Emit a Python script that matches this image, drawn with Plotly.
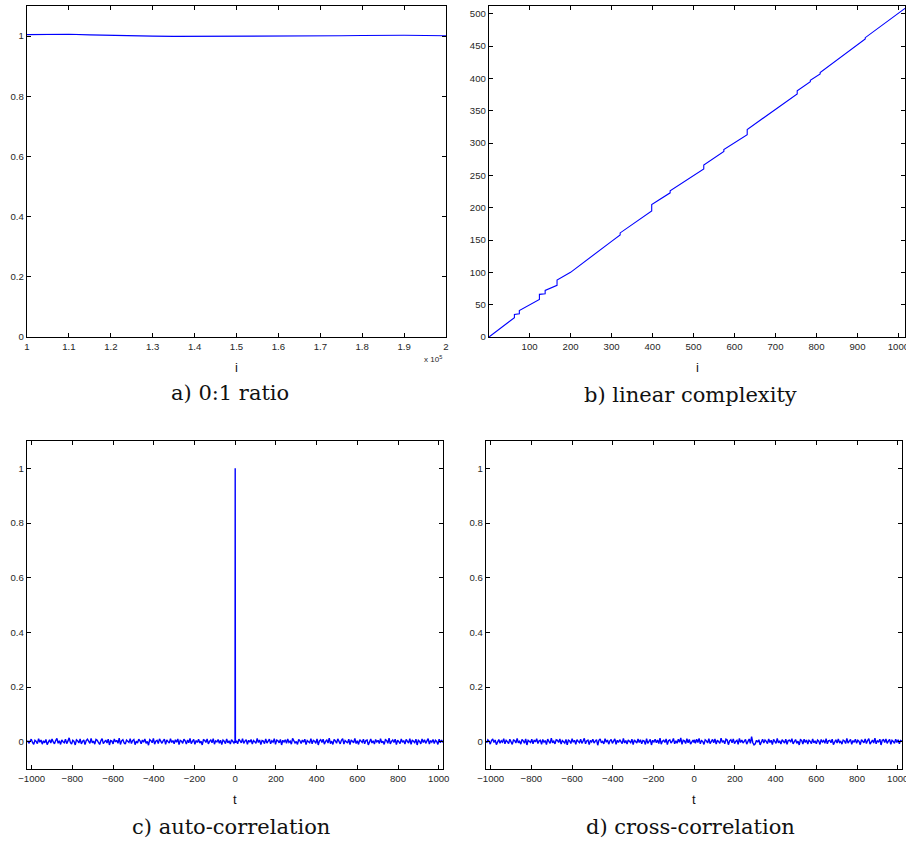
import plotly.graph_objects as go

# ---------------- data ----------------
# a) 0:1 ratio
ratio_i = [100000, 105000, 110000, 115000, 120000, 125000, 130000, 135000, 140000, 145000, 150000,
           155000, 160000, 165000, 170000, 175000, 180000, 185000, 190000, 195000, 200000]
ratio_v = [1.005, 1.006, 1.006, 1.004, 1.002, 1.001, 1.000, 0.999, 0.999, 0.999, 1.000,
           1.000, 1.001, 1.001, 1.000, 1.001, 1.002, 1.003, 1.003, 1.002, 1.001]

# b) linear complexity profile (break points read from the picture)
lc_i = [1, 63, 63, 75, 75, 124, 124, 138, 138, 167, 167, 200, 300, 321, 321, 398, 398, 443, 443,
        525, 525, 574, 574, 631, 631, 753, 753, 785, 785, 809, 809, 919, 919, 1024]
lc_L = [0, 30, 35, 36, 41, 58, 66, 67, 72, 80, 88, 100, 148, 158, 161, 195, 205, 223, 226,
        260, 266, 287, 290, 313, 321, 376, 381, 395, 397, 407, 409, 461, 463, 512]

# c), d) lags
lags = list(range(-1020, 0, 6)) + [-1, 0, 1] + list(range(6, 1021, 6))

auto_corr = [
    0.004, -0.006, 0.002, 0.009, -0.003, -0.010, 0.005, 0.001, -0.007, 0.011, -0.002, 0.006, -0.009, 0.003, -0.004, 0.008, -0.011, 0.002, 0.007, -0.005,
    0.010, -0.001, -0.008, 0.004, 0.012, -0.006, 0.003, -0.010, 0.006, 0.000, -0.004, 0.009, -0.007, 0.002, 0.014, -0.003, -0.009, 0.005, 0.001, -0.012,
    0.007, 0.003, -0.005, 0.010, -0.008, 0.001, 0.006, -0.011, 0.004, 0.009, -0.002, -0.006, 0.012, -0.004, 0.002, -0.009, 0.008, 0.005, -0.003, -0.010,
    0.003, 0.011, -0.007, 0.000, 0.006, -0.005, 0.009, -0.012, 0.004, 0.002, -0.008, 0.010, -0.001, 0.005, -0.006, 0.013, -0.010, 0.003, 0.007, -0.004,
    -0.009, 0.006, 0.001, -0.003, 0.011, -0.007, 0.004, 0.008, -0.011, 0.002, -0.005, 0.009, 0.003, -0.008, 0.006, -0.002, 0.010, -0.006, 0.001, -0.013,
    0.008, 0.004, -0.004, 0.012, -0.009, 0.002, 0.005, -0.007, 0.010, -0.001, -0.006, 0.003, 0.009, -0.010, 0.006, 0.000, -0.005, 0.011, -0.003, 0.004,
    -0.008, 0.007, -0.002, 0.010, -0.011, 0.005, 0.002, -0.006, 0.009, 0.003, -0.009, 0.006, -0.004, 0.012, -0.007, 0.001, 0.008, -0.010, 0.004, -0.003,
    0.009, -0.005, 0.002, -0.012, 0.007, 0.005, -0.003, 0.010, -0.008, 0.001, 0.006, -0.004, 0.011, -0.009, 0.003, -0.001, 0.008, -0.006, 0.005, -0.011,
    0.006, 0.002, -0.007, 0.010, -0.004, 0.003, -0.009, 0.007, 0.001, -0.005,
    0.003, 1.000, -0.004,
    0.003, -0.008, 0.009, 0.001, -0.004, 0.011, -0.006, 0.002, 0.007, -0.010, 0.005, -0.002, 0.008, -0.009, 0.004, 0.000, -0.006, 0.012, -0.003, 0.006,
    -0.011, 0.004, 0.002, -0.007, 0.010, -0.005, 0.001, 0.009, -0.008, 0.003, -0.002, 0.011, -0.010, 0.006, 0.003, -0.004, 0.008, -0.012, 0.005, -0.001,
    0.007, -0.006, 0.010, -0.003, 0.002, -0.009, 0.012, 0.004, -0.005, 0.001, -0.010, 0.008, 0.003, -0.007, 0.006, -0.002, 0.009, -0.011, 0.004, 0.000,
    -0.004, 0.011, -0.008, 0.005, 0.002, -0.006, 0.010, -0.012, 0.003, 0.007, -0.003, 0.009, -0.009, 0.001, 0.006, -0.005, 0.013, -0.007, 0.002, -0.010,
    0.008, 0.003, -0.006, 0.010, -0.002, -0.008, 0.005, 0.011, -0.009, 0.004, 0.000, -0.005, 0.009, -0.011, 0.006, 0.002, -0.004, 0.012, -0.007, 0.003,
    -0.010, 0.007, 0.001, -0.003, 0.009, -0.008, 0.004, 0.006, -0.012, 0.002, 0.010, -0.005, 0.003, -0.009, 0.008, -0.001, 0.005, -0.007, 0.011, -0.004,
    0.002, -0.010, 0.007, 0.004, -0.006, 0.013, -0.008, 0.001, 0.006, -0.003, 0.009, -0.011, 0.005, 0.000, -0.007, 0.010, -0.002, 0.004, -0.009, 0.008,
    0.003, -0.005, 0.011, -0.010, 0.006, 0.002, -0.004, 0.009, -0.012, 0.005, 0.001, -0.008, 0.010, -0.003, 0.007, -0.006, 0.002, 0.011, -0.009, 0.004,
    -0.002, 0.008, -0.007, 0.005, 0.001, -0.010, 0.009, -0.004, 0.006, -0.003,
]

cross_corr = [
    -0.005, 0.007, 0.002, -0.009, 0.004, 0.010, -0.003, 0.006, -0.011, 0.001, 0.008, -0.006, 0.003, -0.002, 0.011, -0.008, 0.005, 0.000, -0.007, 0.009,
    0.002, -0.010, 0.006, 0.004, -0.005, 0.012, -0.004, 0.001, -0.009, 0.008, 0.003, -0.006, 0.010, -0.012, 0.005, 0.002, -0.003, 0.009, -0.008, 0.006,
    -0.001, 0.011, -0.007, 0.003, 0.005, -0.010, 0.008, -0.002, 0.004, -0.011, 0.009, 0.001, -0.006, 0.013, -0.004, 0.002, -0.008, 0.007, 0.005, -0.003,
    0.010, -0.009, 0.004, 0.000, -0.005, 0.008, -0.012, 0.006, 0.003, -0.007, 0.011, -0.002, 0.005, -0.010, 0.007, 0.001, -0.004, 0.009, -0.006, 0.002,
    0.012, -0.008, 0.003, 0.006, -0.011, 0.004, -0.001, 0.009, -0.005, 0.002, 0.007, -0.013, 0.005, 0.010, -0.004, 0.001, -0.008, 0.011, -0.002, 0.006,
    -0.009, 0.003, 0.008, -0.006, 0.002, 0.010, -0.010, 0.005, -0.003, 0.007, 0.000, -0.007, 0.012, -0.005, 0.004, -0.009, 0.006, 0.002, -0.004, 0.009,
    -0.011, 0.006, 0.001, -0.005, 0.010, -0.003, 0.007, -0.008, 0.004, 0.002, -0.010, 0.011, -0.006, 0.003, 0.008, -0.012, 0.005, -0.001, 0.009, -0.004,
    0.006, -0.007, 0.013, -0.009, 0.002, 0.005, -0.003, 0.010, -0.011, 0.004, 0.007, -0.005, 0.001, 0.012, -0.008, 0.003, -0.006, 0.009, -0.002, 0.014,
    -0.010, 0.005, 0.003, -0.007, 0.011, -0.004, 0.008, -0.009, 0.002, 0.006,
    -0.003, 0.004, 0.007,
    -0.006, 0.009, -0.003, 0.012, -0.008, 0.004, 0.001, -0.010, 0.007, 0.003, -0.005, 0.011, -0.007, 0.002, 0.008, -0.004, 0.010, -0.009, 0.005, 0.000,
    -0.006, 0.013, -0.002, 0.004, -0.008, 0.009, 0.006, -0.011, 0.003, 0.007, -0.004, 0.010, -0.007, 0.001, 0.005, -0.010, 0.012, -0.003, 0.006, -0.005,
    0.002, 0.008, -0.009, 0.004, 0.010, -0.006, 0.018, -0.004, -0.012, -0.008, 0.005, -0.002, 0.007, -0.012, 0.003, 0.009, -0.005, 0.006, 0.001, -0.007,
    0.010, -0.003, 0.005, -0.011, 0.008, 0.002, -0.006, 0.012, -0.004, 0.003, -0.009, 0.007, 0.001, -0.005, 0.009, -0.010, 0.004, 0.006, -0.002, 0.011,
    -0.008, 0.003, 0.008, -0.006, 0.002, -0.012, 0.007, 0.004, -0.009, 0.009, -0.003, 0.006, -0.009, 0.005, 0.001, -0.007, 0.010, -0.004, 0.003, -0.008,
    0.006, 0.002, -0.010, 0.008, -0.001, 0.004, -0.006, 0.011, -0.008, 0.003, 0.005, -0.004, 0.009, -0.011, 0.002, 0.007, -0.005, 0.010, -0.003, 0.001,
    -0.009, 0.006, 0.003, -0.007, 0.012, -0.005, 0.002, 0.008, -0.010, 0.004, -0.002, 0.009, -0.006, 0.005, 0.001, -0.011, 0.007, 0.003, -0.004, 0.010,
    -0.007, 0.004, 0.011, -0.009, 0.002, 0.006, -0.005, 0.013, -0.008, 0.003, -0.001, 0.009, -0.012, 0.005, 0.007, -0.003, 0.010, -0.006, 0.002, 0.008,
    -0.010, 0.005, 0.001, -0.006, 0.009, -0.003, 0.007, -0.008, 0.004, 0.002,
]

ratio_ticks = [100000, 110000, 120000, 130000, 140000, 150000, 160000, 170000, 180000, 190000, 200000]
ratio_ticktext = ["1", "1.1", "1.2", "1.3", "1.4", "1.5", "1.6", "1.7", "1.8", "1.9", "2"]
unit_ticks = [0, 0.2, 0.4, 0.6, 0.8, 1]
unit_ticktext = ["0", "0.2", "0.4", "0.6", "0.8", "1"]
lc_xticks = [100, 200, 300, 400, 500, 600, 700, 800, 900, 1000]
lc_yticks = [0, 50, 100, 150, 200, 250, 300, 350, 400, 450, 500]
lag_ticks = [-1000, -800, -600, -400, -200, 0, 200, 400, 600, 800, 1000]

captions = ["a) 0:1 ratio", "b) linear complexity", "c) auto-correlation", "d) cross-correlation"]

# ---------------- figure ----------------
W, H = 906, 846
BLUE = "#0000ff"


def px(x):
    return x / W


def py(y):
    return 1 - y / H


tickfont = dict(family="Liberation Sans, Arial, sans-serif", size=9.6, color="#262626")
common = dict(showline=True, linecolor="black", linewidth=1.4, mirror="ticks",
              ticks="inside", ticklen=4, tickwidth=1, tickcolor="black",
              showgrid=False, zeroline=False, tickfont=tickfont, automargin=False,
              ticklabeloverflow="allow")

fig = go.Figure()
fig.add_trace(go.Scatter(x=ratio_i, y=ratio_v, mode="lines", line=dict(color=BLUE, width=1.1),
                         xaxis="x", yaxis="y", showlegend=False))
fig.add_trace(go.Scatter(x=lc_i, y=lc_L, mode="lines", line=dict(color=BLUE, width=1.1),
                         xaxis="x2", yaxis="y2", showlegend=False))
fig.add_trace(go.Scatter(x=lags, y=auto_corr, mode="lines", line=dict(color=BLUE, width=1.4),
                         xaxis="x3", yaxis="y3", showlegend=False))
fig.add_trace(go.Scatter(x=lags, y=cross_corr, mode="lines", line=dict(color=BLUE, width=1.4),
                         xaxis="x4", yaxis="y4", showlegend=False))

top_row = [py(337), py(6)]
bot_row = [py(769), py(441)]

fig.update_layout(
    width=W, height=H,
    margin=dict(l=0, r=0, t=0, b=0, autoexpand=False),
    paper_bgcolor="white", plot_bgcolor="white",
    xaxis=dict(common, domain=[px(27), px(446)], range=[100000, 200000], anchor="y",
               tickvals=ratio_ticks, ticktext=ratio_ticktext),
    yaxis=dict(common, domain=top_row, range=[0, 1.1], anchor="x",
               tickvals=unit_ticks, ticktext=unit_ticktext),
    xaxis2=dict(common, domain=[px(489), px(905)], range=[1, 1016], anchor="y2",
                tickvals=lc_xticks),
    yaxis2=dict(common, domain=top_row, range=[0, 512], anchor="x2",
                tickvals=lc_yticks),
    xaxis3=dict(common, domain=[px(27), px(443)], range=[-1023, 1021], anchor="y3",
                tickvals=lag_ticks),
    yaxis3=dict(common, domain=bot_row, range=[-0.1, 1.1], anchor="x3",
                tickvals=unit_ticks, ticktext=unit_ticktext),
    xaxis4=dict(common, domain=[px(486), px(902)], range=[-1023, 1021], anchor="y4",
                tickvals=lag_ticks),
    yaxis4=dict(common, domain=bot_row, range=[-0.1, 1.1], anchor="x4",
                tickvals=unit_ticks, ticktext=unit_ticktext),
)

label_font = dict(family="Liberation Sans, Arial, sans-serif", size=13, color="#111")
cap_font = dict(family="DejaVu Serif, serif", size=21, color="#111")

annotations = [
    dict(text="i", x=px(236.5), y=py(367.5)),
    dict(text="i", x=px(697), y=py(367.5)),
    dict(text="t", x=px(235), y=py(799)),
    dict(text="t", x=px(694), y=py(799)),
]
anns = []
for a in annotations:
    anns.append(dict(a, xref="paper", yref="paper", showarrow=False, font=label_font,
                     xanchor="center", yanchor="middle"))
cap_pos = [(230, 393), (690.5, 395), (231, 827), (690, 827)]
for txt, (cx, cy) in zip(captions, cap_pos):
    anns.append(dict(text=txt, x=px(cx), y=py(cy), xref="paper", yref="paper", showarrow=False,
                     font=cap_font, xanchor="center", yanchor="middle"))
anns.append(dict(text="x 10<sup>5</sup>", x=px(433), y=py(359), xref="paper", yref="paper",
                 showarrow=False, font=dict(family="Liberation Sans, Arial", size=8, color="#262626"),
                 xanchor="center", yanchor="middle"))
fig.update_layout(annotations=anns)

fig.write_html("out.html", config={"displayModeBar": False},
               post_script="document.body.style.margin='0';document.body.style.overflow='hidden';")
